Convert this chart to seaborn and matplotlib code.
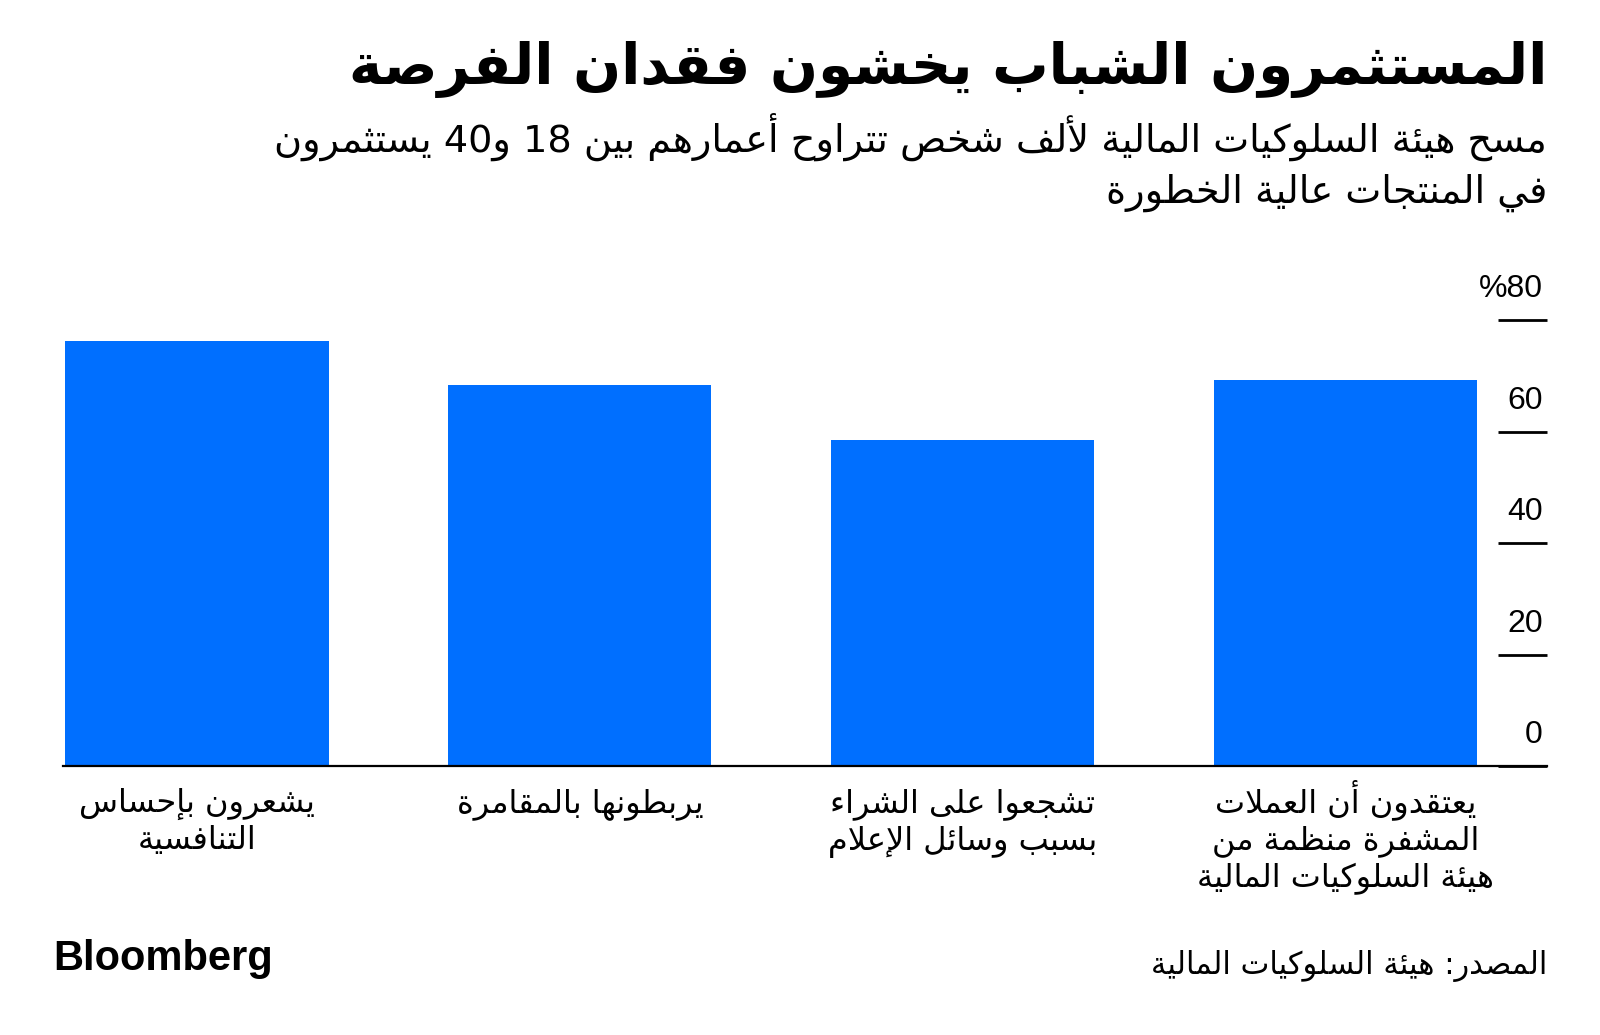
import re
import matplotlib
matplotlib.use("Agg")
import matplotlib.pyplot as plt
from matplotlib.transforms import blended_transform_factory, offset_copy
import numpy as np
import pandas as pd
import seaborn as sns

# ---------------- data (logical reading order: right to left) ----------------
categories = [
    "يعتقدون أن العملات\nالمشفرة منظمة من\nهيئة السلوكيات المالية",
    "تشجعوا على الشراء\nبسبب وسائل الإعلام",
    "يربطونها بالمقامرة",
    "يشعرون بإحساس\nالتنافسية",
]
values = [69.2, 58.5, 68.3, 76.2]
y_ticks = [0, 20, 40, 60, 80]
y_tick_labels = ["0", "20", "40", "60", "%80"]

title = "المستثمرون الشباب يخشون فقدان الفرصة"
subtitle_lines = [
    "مسح هيئة السلوكيات المالية لألف شخص تتراوح أعمارهم بين 18 و40 يستثمرون",
    "في المنتجات عالية الخطورة",
]
source = "المصدر: هيئة السلوكيات المالية"
brand = "Bloomberg"

BLUE = "#006FFF"

# ---------------- minimal Arabic shaping + RTL ordering ----------------
DUAL = {0x0626: 0xFE89, 0x0628: 0xFE8F, 0x062A: 0xFE95, 0x062B: 0xFE99, 0x062C: 0xFE9D,
        0x062D: 0xFEA1, 0x062E: 0xFEA5, 0x0633: 0xFEB1, 0x0634: 0xFEB5, 0x0635: 0xFEB9,
        0x0636: 0xFEBD, 0x0637: 0xFEC1, 0x0638: 0xFEC5, 0x0639: 0xFEC9, 0x063A: 0xFECD,
        0x0641: 0xFED1, 0x0642: 0xFED5, 0x0643: 0xFED9, 0x0644: 0xFEDD, 0x0645: 0xFEE1,
        0x0646: 0xFEE5, 0x0647: 0xFEE9, 0x064A: 0xFEF1}
RIGHT = {0x0622: 0xFE81, 0x0623: 0xFE83, 0x0624: 0xFE85, 0x0625: 0xFE87, 0x0627: 0xFE8D,
         0x0629: 0xFE93, 0x062F: 0xFEA9, 0x0630: 0xFEAB, 0x0631: 0xFEAD, 0x0632: 0xFEAF,
         0x0648: 0xFEED, 0x0649: 0xFEEF}
NONJ = {0x0621: 0xFE80}
LAMALEF = {0x0622: 0xFEF5, 0x0623: 0xFEF7, 0x0625: 0xFEF9, 0x0627: 0xFEFB}


def shape(s):
    units = []
    i = 0
    while i < len(s):
        c = ord(s[i])
        if c == 0x0644 and i + 1 < len(s) and ord(s[i + 1]) in LAMALEF:
            units.append(("R", LAMALEF[ord(s[i + 1])]))
            i += 2
            continue
        if c in DUAL:
            units.append(("D", DUAL[c]))
        elif c in RIGHT:
            units.append(("R", RIGHT[c]))
        elif c in NONJ:
            units.append(("U", NONJ[c]))
        else:
            units.append(("X", s[i]))
        i += 1
    out = []
    for k, (t, v) in enumerate(units):
        if t == "X":
            out.append(v)
            continue
        if t == "U":
            out.append(chr(v))
            continue
        prev = units[k - 1][0] if k > 0 else None
        nxt = units[k + 1][0] if k + 1 < len(units) else None
        jp = prev == "D"
        jn = t == "D" and nxt in ("D", "R")
        if t == "R":
            out.append(chr(v + (1 if jp else 0)))
        else:
            off = 3 if (jp and jn) else 2 if jn else 1 if jp else 0
            out.append(chr(v + off))
    return "".join(out)


def rtl(s):
    lines = []
    for line in s.split("\n"):
        shaped = shape(line)
        runs = re.findall(r"[0-9A-Za-z.]+|[^0-9A-Za-z.]+", shaped)
        lines.append("".join(r if re.match(r"[0-9A-Za-z]", r) else r[::-1]
                             for r in reversed(runs)))
    return "\n".join(lines)


# ---------------- figure ----------------
sns.set_theme(style="white")
plt.rcParams["font.family"] = ["DejaVu Sans"]

W, H = 1600, 1035
fig = plt.figure(figsize=(W / 100, H / 100), dpi=100)
fig.patch.set_facecolor("white")

ax_left, ax_right, ax_bottom, ax_top = 63, 1547, 766, 320.3
ax = fig.add_axes([ax_left / W, 1 - ax_bottom / H,
                   (ax_right - ax_left) / W, (ax_bottom - ax_top) / H])

df = pd.DataFrame({"label": categories, "value": values})
order = categories[::-1]  # first category drawn rightmost

sns.barplot(data=df, x="label", y="value", order=order, color=BLUE,
            saturation=1, width=0.687, ax=ax, errorbar=None, linewidth=0)

ax.set_xlim(-0.35, 3.526)
ax.set_ylim(0, 80)
ax.set_xlabel("")
ax.set_ylabel("")
ax.set_facecolor("white")

for side in ["top", "left", "right"]:
    ax.spines[side].set_visible(False)
ax.spines["bottom"].set_color("black")
ax.spines["bottom"].set_linewidth(1.6)
ax.spines["bottom"].set_zorder(5)

ax.set_yticks(y_ticks)
ax.tick_params(axis="y", which="major", direction="in", length=35.3, width=2.0,
               color="black", left=False, right=True, labelleft=False, labelright=False)
ax.tick_params(axis="x", length=0, labelbottom=False)

# category labels: one text per line, centred under each bar
xtrans = blended_transform_factory(ax.transData, ax.transAxes)
for pos, cat in enumerate(order):
    for k, line in enumerate(cat.split("\n")):
        tr = offset_copy(xtrans, fig=fig, x=0, y=-(812 - ax_bottom + 37.5 * k), units="dots")
        ax.text(pos, 0, rtl(line), transform=tr, ha="center", va="baseline",
                fontsize=23, color="black", clip_on=False)

# y tick labels sit above the short tick segments
trans = blended_transform_factory(ax.transAxes, ax.transData)
trans = offset_copy(trans, fig=fig, x=-4, y=23, units="dots")
for v, t in zip(y_ticks, y_tick_labels):
    ax.text(1, v, t, transform=trans, ha="right", va="baseline",
            fontsize=23, color="black", family=["Liberation Sans", "DejaVu Sans"])

# ---------------- texts ----------------
fig.text(1547 / W, 1 - 69 / H, rtl(title), ha="right", va="center",
         fontsize=40.5, fontweight="bold", color="black")
fig.text(1547 / W, 1 - 137 / H, rtl(subtitle_lines[0]), ha="right", va="center",
         fontsize=27.5, color="black")
fig.text(1547 / W, 1 - 193 / H, rtl(subtitle_lines[1]), ha="right", va="center",
         fontsize=27.5, color="black")
fig.text(53 / W, 1 - 959 / H, brand, ha="left", va="center",
         fontsize=30, fontweight="bold", color="black", family=["Liberation Sans"])
fig.text(1547 / W, 1 - 966 / H, rtl(source), ha="right", va="center",
         fontsize=22, color="black")

fig.savefig("out.png", dpi=100, facecolor="white")
